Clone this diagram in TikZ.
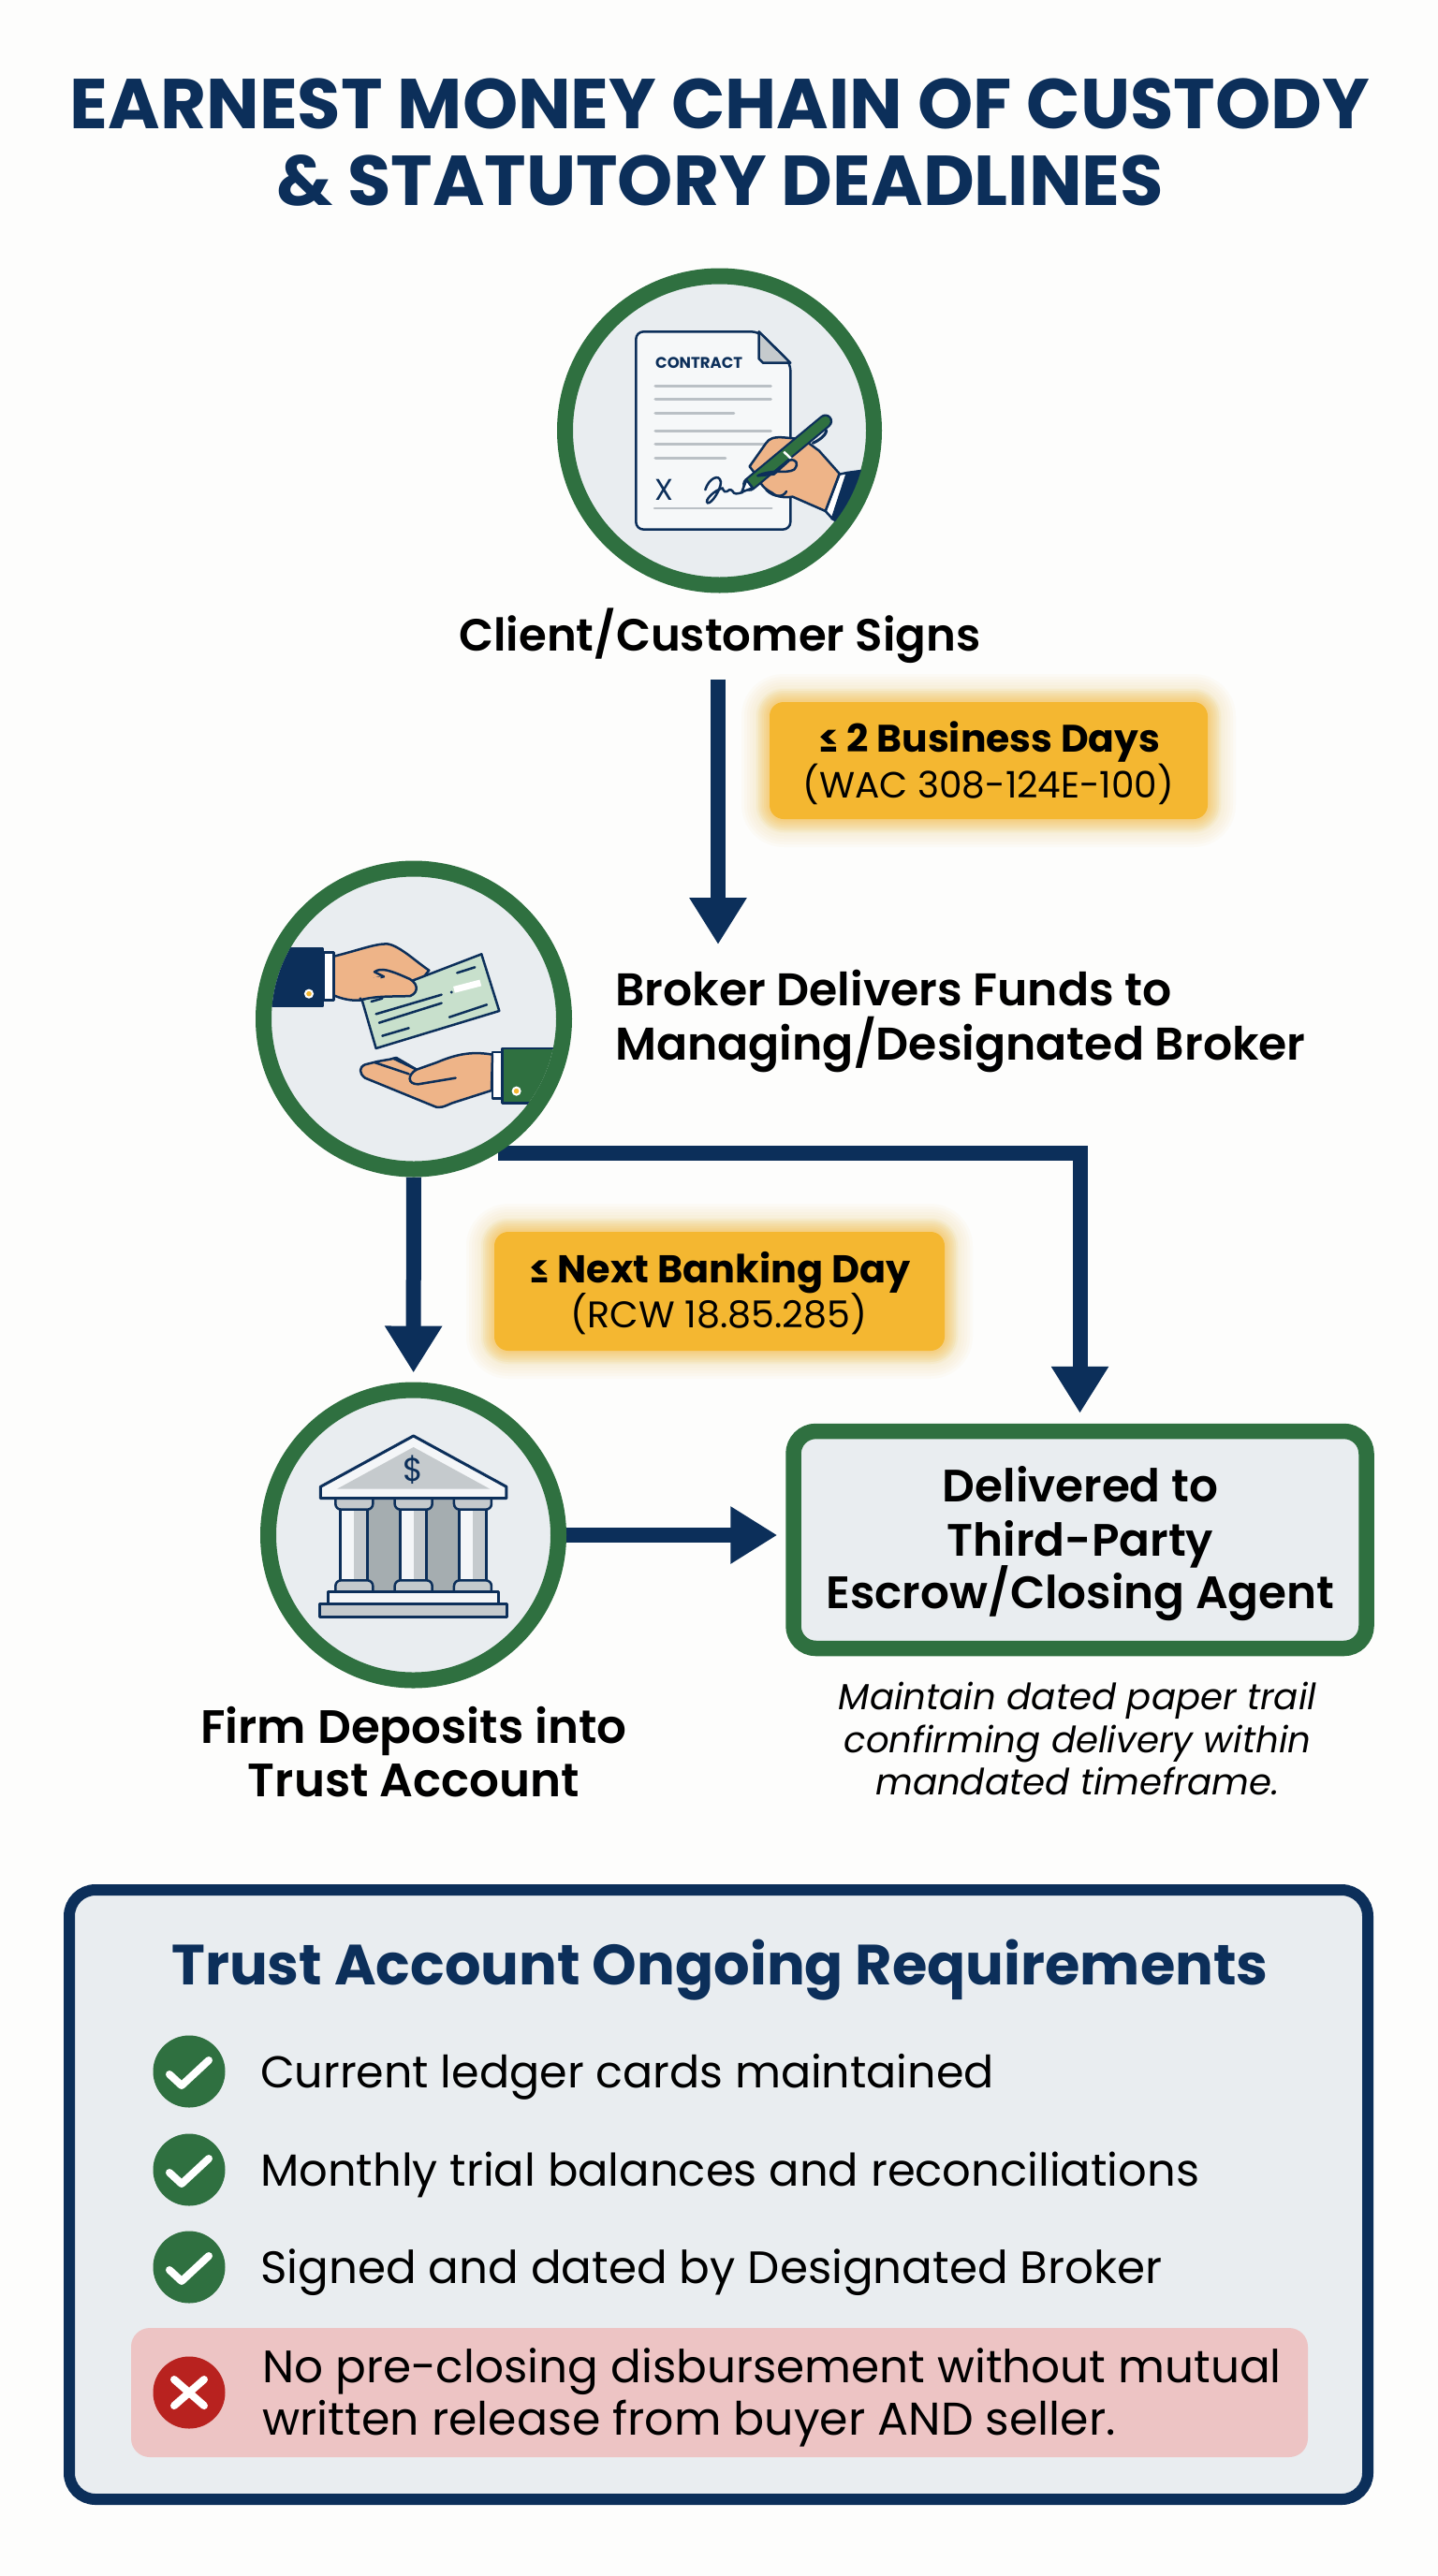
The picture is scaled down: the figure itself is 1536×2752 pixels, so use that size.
\documentclass[tikz,border=0pt]{standalone}
\usepackage{fontspec}
\setmainfont{Poppins}
\newfontfamily\popsb{Poppins SemiBold}
\usetikzlibrary{arrows.meta,calc}
\definecolor{navy}{HTML}{0C2F5A}
\definecolor{ringg}{HTML}{2F7040}
\definecolor{pane}{HTML}{E9EDF0}
\definecolor{amber}{HTML}{F4B731}
\definecolor{skin}{HTML}{EEB488}
\definecolor{greyl}{HTML}{BAC0C5}
\definecolor{greym}{HTML}{C5CACD}
\definecolor{greyd}{HTML}{A5ADB0}
\definecolor{chq}{HTML}{C8E0CC}
\definecolor{redc}{HTML}{B8221F}
\definecolor{pinkb}{HTML}{EDC4C4}
\definecolor{paper}{HTML}{FDFDFC}
\pgfdeclarelayer{bg}
\pgfsetlayers{bg,main}
\newcommand{\fs}[1]{\fontsize{#1}{#1}\selectfont}
\tikzset{
 ringc/.style={circle,draw=ringg,line width=17pt,fill=pane,inner sep=0pt,minimum size=#1},
 flow/.style={draw=navy,line width=16pt,-{Triangle[length=50pt,width=58pt]}},
 badge/.style={rounded corners=15pt,fill=amber},
 ol/.style={draw=navy,line width=2.5pt,line join=round},
 gl/.style={draw=greyl,line width=3pt,line cap=round},
 cl/.style={draw=navy,line width=2.5pt,line cap=round},
 zoomA/.style={shift={(560,260)},x=.3333pt,y=-.3333pt},
 zoomB/.style={shift={(250,900)},x=.3333pt,y=-.3333pt},
 zoomC/.style={shift={(260,1460)},x=.3333pt,y=-.3333pt},
 hd/.style={anchor=base,text=navy,font=\bfseries\fs{75.4},align=center},
 lab/.style={text=black,font=\popsb\fs{#1}},
 lab/.default=48.5,
 bdg/.style={anchor=base,text=black},
 row/.style={anchor=base west,text=black,font=\fs{#1}},
 okc/.style={circle,fill=ringg,minimum size=77pt,inner sep=0pt},
 noc/.style={circle,fill=redc,minimum size=77pt,inner sep=0pt},
 mk/.style={draw=white,line width=8pt,line cap=round,line join=round},
}
\begin{document}
\begin{tikzpicture}[x=1pt,y=-1pt]
\useasboundingbox (0,0) rectangle (1536,2752);
\begin{pgfonlayer}{bg}
\fill[paper] (0,0) rectangle (1536,2752);
\end{pgfonlayer}
% title
\node[hd] (t1) at (769,137) {EARNEST MONEY CHAIN OF CUSTODY};
\node[hd] (t2) at (769,219) {\& STATUTORY DEADLINES};
% circles
\node[ringc=330pt] (c1) at (768.5,460) {};
\node[ringc=321pt] (c2) at (442,1088.5) {};
\node[ringc=310pt] (c3) at (441.5,1640) {};
% icon 1
\begin{scope}
\clip (c1) circle (157);
\begin{scope}[zoomA]
\draw[ol,fill=white!60!pane,rounded corners=8] (358,283) -- (752,283) -- (853,383) -- (853,917) -- (358,917) -- cycle;
\draw[ol,fill=greym] (752,283) -- (752,370) -- (765,383) -- (853,383) -- cycle;
\node[anchor=base west,inner sep=0pt,text=navy,font=\bfseries\fs{16.5}] (ctr) at (420,400) {CONTRACT};
\draw[gl] (420,458) -- (790,458);
\draw[gl] (420,501) -- (790,501);
\draw[gl] (420,545) -- (672,545);
\draw[gl] (420,601) -- (790,601);
\draw[gl] (420,645) -- (770,645);
\draw[gl] (420,688) -- (645,688);
\draw[gl,line width=2.5pt] (417,849) -- (793,849);
\node[anchor=base west,inner sep=0pt,text=navy,font=\fs{32}] (xx) at (418,825) {X};
\draw[cl] (580,790) .. controls (590,755) and (625,735) .. (630,765) .. controls (630,790) and (600,835) .. (588,832) .. controls (575,825) and (610,790) .. (635,785) .. controls (640,795) and (645,800) .. (650,795) .. controls (660,785) and (665,790) .. (672,800) .. controls (680,805) and (690,800) .. (700,798);
% sleeve
\draw[ol,fill=navy] (1035,735) -- (1110,725) -- (1020,900) -- (985,882) -- cycle;
\draw[ol,fill=white] (1010,740) -- (1035,735) -- (987,882) -- (965,858) -- cycle;
% hand
\draw[ol,fill=skin] (722,715) -- (775,640) .. controls (785,625) and (800,620) .. (830,622) -- (895,628) -- (945,665) -- (1010,738) -- (965,858) -- (860,812) .. controls (840,815) and (810,815) .. (795,800) .. controls (775,790) and (765,780) .. (755,765) -- (745,745) -- cycle;
% pen
\draw[navy,line width=3pt,line cap=round] (925,640) .. controls (960,625) and (975,600) .. (965,595);
\draw[navy,line width=15pt,line cap=round] (722,772) -- (965,570);
\draw[ringg,line width=10.5pt,line cap=round] (722,772) -- (965,570);
\draw[ol,fill=white] (697,797) -- (712,758) -- (732,784) -- cycle;
\draw[white,line width=2.5pt] (832,668) -- (855,690);
% thumb
\draw[ol,fill=skin] (748,745) .. controls (790,722) and (840,740) .. (865,725) .. controls (882,705) and (870,690) .. (850,695) -- (800,740) -- cycle;
\draw[cl] (775,790) .. controls (800,815) and (830,815) .. (840,795);
\end{scope}
\end{scope}
% icon 2
\begin{scope}
\clip (c2) circle (152);
\begin{scope}[zoomB]
\draw[ol,fill=navy] (90,340) -- (285,340) -- (285,525) -- (90,525) -- cycle;
\draw[ol,fill=white] (287,352) rectangle (320,505);
\draw[fill=amber,draw=white,line width=2pt] (240,485) circle (12);
\draw[ol,fill=skin] (320,365) .. controls (400,345) and (450,325) .. (490,325) .. controls (530,330) and (580,380) .. (625,410) -- (560,490) -- (410,505) .. controls (380,510) and (340,500) .. (320,490) -- cycle;
\draw[ol,fill=chq] (410,505) -- (793,358) -- (850,540) -- (455,660) -- cycle;
\draw[ol,fill=skin] (450,415) .. controls (470,400) and (500,410) .. (550,432) .. controls (590,445) and (595,480) .. (565,492) .. controls (520,495) and (460,490) .. (405,505) .. controls (400,480) and (410,440) .. (480,430) -- cycle;
\fill[skin] (400,440) -- (470,430) -- (460,490) -- (380,500) -- cycle;
\draw[cl] (440,510) -- (475,500);
\draw[cl] (455,550) -- (665,488);
\draw[cl] (465,578) -- (665,515);
\draw[cl] (475,620) -- (560,595);
\draw[cl] (690,560) -- (810,520);
\draw[cl] (715,418) -- (772,400);
\draw[white,line width=7pt] (705,472) -- (790,450);
\fill[navy] (697,480) circle (5);
\draw[ol,fill=ringg] (860,660) -- (1100,660) -- (1100,835) -- (860,835) -- cycle;
\draw[ol,fill=white] (828,672) rectangle (860,820);
\draw[fill=amber,draw=white,line width=2pt] (905,797) circle (12);
\draw[ol,fill=skin] (828,680) .. controls (770,670) and (720,675) .. (650,705) -- (585,728) -- (520,690) -- (500,695) -- (460,702) -- (420,712) .. controls (400,720) and (400,740) .. (420,755) -- (640,845) .. controls (660,855) and (675,845) .. (700,835) -- (825,795) -- cycle;
\draw[cl] (450,705) -- (560,742);
\draw[cl] (510,692) -- (585,728);
\draw[cl] (585,728) .. controls (555,745) and (555,775) .. (590,775) -- (710,755);
\end{scope}
\end{scope}
% icon 3
\begin{scope}[zoomC]
\fill[greyd] (395,425) rectangle (695,720);
\foreach \cx in {355,545,735}{
 \fill[pane!50!white] (\cx-43,458) rectangle (\cx+43,685);
 \fill[greym] (\cx+0,458) rectangle (\cx+43,685);
 \draw[ol,line width=3pt] (\cx-43,458) -- (\cx-43,685) (\cx+43,458) -- (\cx+43,685);
 \draw[ol,fill=greym,rounded corners=6] (\cx-60,425) -- (\cx-60,458) -- (\cx+60,458) -- (\cx+60,425);
 \draw[ol,fill=greym,rounded corners=6] (\cx-60,720) -- (\cx-60,685) -- (\cx+60,685) -- (\cx+60,720);
}
\draw[ol,line width=3pt,fill=pane!50!white] (272,722) rectangle (818,760);
\draw[ol,line width=3pt,fill=greym] (245,760) rectangle (845,803);
\draw[ol,line width=3pt,fill=pane!50!white] (247,385) -- (545,222) -- (843,385) -- (843,422) -- (247,422) -- cycle;
\fill[greym] (300,392) -- (545,258) -- (790,392) -- cycle;
\node[text=navy,inner sep=0pt,font=\fs{35}] (dol) at (545,330) {\$};
\end{scope}
% labels
\node[lab=48.2,anchor=base] (signs) at (769,695) {Client/Customer Signs};
\node[lab=48.9,anchor=base west,inner sep=0pt] (bro) at (657,1074) {Broker Delivers Funds to};
\node[lab=48.9,anchor=base west,inner sep=0pt] (bro2) at (657,1132) {Managing/Designated Broker};
\node[lab=50,anchor=base] (firm) at (442,1862) {Firm Deposits into};
\node[lab=50,anchor=base] (firm2) at (442,1919) {Trust Account};
% badges
\foreach \g in {30,27,...,3}{
 \fill[amber,opacity=.03,rounded corners=\g+15] (822-\g,750-\g) rectangle (1290+\g,875+\g);
 \fill[amber,opacity=.03,rounded corners=\g+15] (528-\g,1316-\g) rectangle (1009+\g,1443+\g);
}
\foreach \g in {14,12,...,2}{
 \fill[amber,opacity=.07,rounded corners=\g+15] (822-\g,750-\g) rectangle (1290+\g,875+\g);
 \fill[amber,opacity=.07,rounded corners=\g+15] (528-\g,1316-\g) rectangle (1009+\g,1443+\g);
}
\node[badge,minimum width=468pt,minimum height=125pt,inner sep=0pt] (b1) at (1056,812.5) {};
\node[badge,minimum width=481pt,minimum height=127pt,inner sep=0pt] (b2) at (768.5,1379.5) {};
\node[bdg,font=\bfseries\fs{40.9}] (b1a) at (1057,803) {≤ 2 Business Days};
\node[bdg,font=\fs{39}] (b1b) at (1056,852) {(WAC 308-124E-100)};
\node[bdg,font=\bfseries\fs{41.4}] (b2a) at (769,1370) {≤ Next Banking Day};
\node[bdg,font=\fs{39.6}] (b2b) at (768,1418) {(RCW 18.85.285)};
% box
\node[draw=ringg,line width=16.5pt,fill=pane,rounded corners=24pt,minimum width=612pt,minimum height=232pt,inner sep=0pt] (box) at (1153.5,1645) {};
\node[lab,anchor=base] (d1) at (1154,1604) {Delivered to};
\node[lab,anchor=base] (d2) at (1154,1662) {Third-Party};
\node[lab,anchor=base] (d3) at (1154,1718) {Escrow/Closing Agent};
\node[anchor=base,font=\itshape\fs{38.7}] (n1) at (1151,1826) {Maintain dated paper trail};
\node[anchor=base,font=\itshape\fs{38.7}] (n2) at (1151,1872) {confirming delivery within};
\node[anchor=base,font=\itshape\fs{38.7}] (n3) at (1151,1917) {mandated timeframe.};
% panel
\node[draw=navy,line width=12pt,fill=pane,rounded corners=28pt,minimum width=1387pt,minimum height=651pt,inner sep=0pt] (pn) at (767.5,2344.5) {};
\node[anchor=base,text=navy,font=\bfseries\fs{60.6}] (pt) at (769,2120) {Trust Account Ongoing Requirements};
\foreach \n/\y/\sz/\txt in {1/2213/47.6/Current ledger cards maintained,2/2318/48/Monthly trial balances and reconciliations,3/2422/48.4/Signed and dated by Designated Broker}{
 \node[okc] (k\n) at (202,\y) {};
 \draw[mk] ($(k\n)+(-21,3)$) -- ($(k\n)+(-8,15)$) -- ($(k\n)+(21,-12)$);
 \node[row=\sz,inner sep=0pt] (r\n) at (278,\y+17) {\txt};
}
\node[fill=pinkb,rounded corners=20pt,minimum width=1257pt,minimum height=138pt,inner sep=0pt] (pk) at (768.5,2556) {};
\node[noc] (no) at (202,2556) {};
\draw[mk] ($(no)+(-16,-14)$) -- ($(no)+(16,14)$);
\draw[mk] ($(no)+(-16,14)$) -- ($(no)+(16,-14)$);
\node[row=48.5,inner sep=0pt] (r4) at (280,2545) {No pre-closing disbursement without mutual};
\node[row=49,inner sep=0pt] (r5) at (280,2601) {written release from buyer AND seller.};
% connectors
\coordinate (aend) at (767,1009);
\begin{pgfonlayer}{bg}
\draw[flow] ([yshift=-14pt]signs.south -| aend) -- (aend);
\draw[flow,shorten >=11pt] (c2.-58) -| (box.north);
\draw[flow,shorten >=10pt] (c2) -- (c3);
\draw[flow,shorten >=9pt] (c3) -- (c3 -| box.west);
\end{pgfonlayer}
\end{tikzpicture}
\end{document}
